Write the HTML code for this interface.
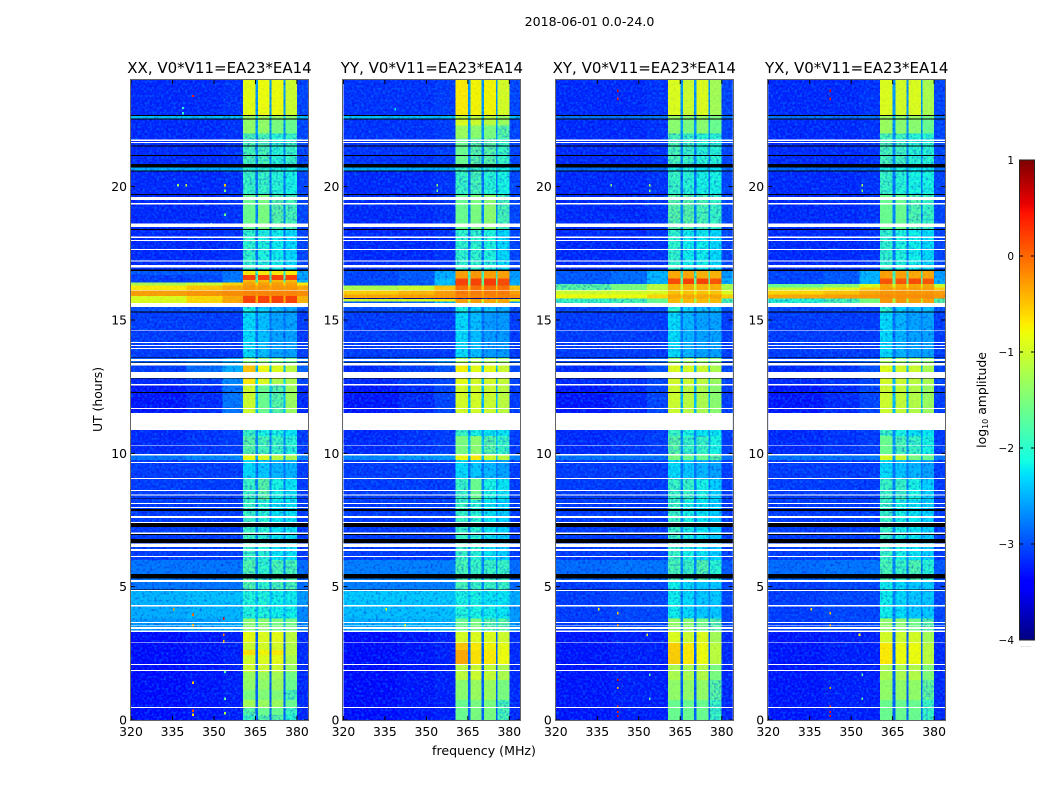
<!DOCTYPE html>
<html lang="en">
<head>
<meta charset="utf-8">
<title>2018-06-01 0.0-24.0</title>
<style>
html,body{margin:0;padding:0;background:#fff;}
svg{display:block;}
text{font-family:"DejaVu Sans","Liberation Sans",sans-serif;fill:#000;}
</style>
</head>
<body>
<svg id="figure" xmlns="http://www.w3.org/2000/svg" width="1050" height="800" viewBox="0 0 1050 800">
  <defs>
    <filter id="speckle" filterUnits="userSpaceOnUse" x="0" y="0" width="1050" height="800" color-interpolation-filters="sRGB">
      <feTurbulence type="fractalNoise" baseFrequency="0.42" numOctaves="1" seed="7" result="n"/>
      <feColorMatrix in="n" type="matrix" values="0 0 0 0 0  0 0 0 0 0.62  0 0 0 0 1  3.4 0 0 0 -1.55" result="light"/>
      <feColorMatrix in="n" type="matrix" values="0 0 0 0 0  0 0 0 0 0.02  0 0 0 0 0.8  0 3.4 0 0 -1.6" result="dark"/>
      <feMerge><feMergeNode in="dark"/><feMergeNode in="light"/></feMerge>
    </filter>
  </defs>
  <text x="589.5" y="26" text-anchor="middle" font-size="12.6">2018-06-01 0.0-24.0</text>
  <text x="484" y="755" text-anchor="middle" font-size="12.6">frequency (MHz)</text>
  <text transform="translate(102,399.5) rotate(-90)" text-anchor="middle" font-size="12.4">UT (hours)</text>
  <text transform="translate(986,400) rotate(-90)" text-anchor="middle" font-size="12.4">log<tspan font-size="8" dy="2">10</tspan><tspan dy="-2"> amplitude</tspan></text>
  <g id="panels"></g>
  <g id="colorbar"></g>
</svg>
<script>
// ---------- chart data ----------
const panelNames = ["XX, V0*V11=EA23*EA14", "YY, V0*V11=EA23*EA14", "XY, V0*V11=EA23*EA14", "YX, V0*V11=EA23*EA14"];
const xTicks = [320, 335, 350, 365, 380];
const yTicks = [0, 5, 10, 15, 20];
const cbTicks = [1, 0, -1, -2, -3, -4];
// frequency channel groups (MHz): left, mid, near, band1, gap, band2, gap, band3, gap, band4, right
const chanEdges = [320, 340, 353, 360.5, 365, 366, 370, 370.8, 375.2, 375.8, 380, 384];
// log10 amplitude per UT slice: [UT top, left, mid, near, band1, gap, band2, band3, band4, right]
const rowsXX = [
[24,-3.2,-3.2,-3.15,-0.85,-2.6,-0.8,-0.8,-1.0,-3.05],
[22.67,-2.4,-2.4,-2.4,-1.3,-2.3,-1.3,-1.3,-1.4,-2.4],
[22.54,-3.2,-3.2,-3.15,-1.35,-2.6,-1.35,-1.5,-1.6,-3.05],
[22.0,-3.2,-3.2,-3.15,-1.8,-2.7,-1.8,-2.0,-1.9,-3.05],
[20.72,-2.5,-2.5,-2.5,-2.0,-2.4,-2.0,-2.1,-2.1,-2.5],
[20.6,-3.2,-3.2,-3.15,-1.9,-2.8,-1.9,-2.0,-2.1,-3.05],
[19.7,-3.2,-3.2,-3.15,-1.6,-2.7,-1.5,-1.7,-1.8,-3.05],
[18.4,-3.2,-3.2,-3.15,-1.95,-2.8,-2.05,-2.15,-2.25,-3.05],
[16.84,-2.95,-2.95,-2.8,-0.7,-2.0,-0.7,-0.7,-0.7,-2.5],
[16.68,-3.1,-3.05,-2.8,0.2,-1.7,0.2,0.2,0.2,-2.6],
[16.5,-3.1,-3.05,-2.7,-0.45,-1.8,-0.45,-0.45,-0.45,-2.4],
[16.4,-1.2,-1.0,-0.6,-0.3,-0.6,-0.3,-0.3,-0.3,-0.7],
[16.3,-0.7,-0.5,-0.35,-0.25,-0.35,-0.25,-0.25,-0.25,-0.35],
[16.1,-0.3,-0.25,-0.2,-0.15,-0.2,-0.15,-0.15,-0.15,-0.2],
[15.9,-0.9,-0.6,-0.35,0.2,-0.4,0.2,0.2,0.2,-0.4],
[15.49,-3.0,-3.0,-3.0,-2.1,-2.8,-2.3,-2.4,-2.5,-3.0],
[15.3,-3.1,-3.1,-3.1,-2.25,-2.8,-2.4,-2.55,-2.55,-3.1],
[13.59,-2.9,-2.75,-2.5,-1.4,-2.3,-1.4,-1.5,-1.6,-2.8],
[13.29,-3.1,-2.85,-2.5,-0.5,-2.4,-0.8,-0.9,-1.1,-2.9],
[12.78,-3.2,-3.1,-2.7,-0.7,-2.2,-0.9,-1.2,-1.2,-3.05],
[12.55,-3.3,-3.2,-2.8,-1.0,-2.4,-1.6,-1.7,-1.3,-3.2],
[10.88,-3.2,-3.15,-3.1,-1.9,-2.7,-2.1,-2.1,-2.2,-3.1],
[10.65,-3.2,-3.15,-3.1,-1.7,-2.7,-1.8,-1.9,-2.0,-3.1],
[9.91,-2.8,-2.7,-2.7,-0.8,-2.5,-0.9,-1.1,-1.2,-2.7],
[9.75,-3.1,-3.1,-3.1,-2.25,-2.8,-2.35,-2.45,-2.45,-3.1],
[9.04,-3.1,-3.1,-3.1,-1.9,-2.7,-1.7,-2.1,-2.2,-3.1],
[8.25,-3.1,-3.1,-3.1,-1.9,-2.7,-2.0,-2.2,-2.2,-3.1],
[6.0,-2.8,-2.8,-2.8,-1.75,-2.7,-1.95,-1.8,-1.8,-2.85],
[4.85,-2.45,-2.4,-2.4,-2.05,-2.4,-2.05,-2.15,-2.15,-2.6],
[4.25,-2.5,-2.45,-2.45,-2.05,-2.4,-2.05,-2.15,-2.15,-2.7],
[3.8,-2.6,-2.55,-2.5,-1.4,-2.4,-1.4,-1.5,-1.55,-2.7],
[3.3,-3.35,-3.3,-3.25,-0.85,-2.9,-0.9,-0.85,-1.1,-3.2],
[2.9,-3.35,-3.3,-3.25,-1.0,-2.9,-0.95,-0.95,-1.15,-3.2],
[2.62,-3.35,-3.3,-3.25,-0.65,-2.9,-0.75,-0.7,-1.1,-3.2],
[2.44,-3.35,-3.3,-3.25,-0.95,-2.9,-0.9,-0.85,-1.2,-3.2],
[2.1,-3.35,-3.3,-3.25,-1.0,-2.9,-1.0,-1.0,-1.3,-3.2],
[1.8,-3.35,-3.3,-3.25,-1.3,-2.9,-1.3,-1.25,-1.55,-3.2],
[1.5,-3.35,-3.3,-3.25,-1.35,-2.9,-1.35,-1.3,-1.6,-3.2],
[1.12,-3.35,-3.3,-3.25,-1.5,-2.9,-1.45,-1.45,-1.8,-3.2],
[0.75,-3.35,-3.3,-3.25,-1.25,-2.9,-1.3,-1.3,-1.6,-3.2],
[0.45,-3.35,-3.3,-3.25,-1.7,-2.9,-1.6,-1.6,-1.9,-3.2],
[0.19,-3.35,-3.3,-3.25,-1.9,-2.9,-1.7,-1.7,-2.0,-3.2]
];
const rowsYY = [
[24,-3.15,-3.15,-3.1,-0.7,-2.6,-0.75,-0.75,-0.95,-3.05],
[22.67,-2.4,-2.4,-2.4,-1.1,-2.3,-1.1,-1.1,-1.3,-2.4],
[22.54,-3.15,-3.15,-3.1,-0.9,-2.6,-1.0,-1.1,-1.3,-3.05],
[22.3,-3.15,-3.15,-3.1,-1.3,-2.6,-1.4,-1.5,-1.7,-3.05],
[21.8,-3.15,-3.15,-3.1,-1.6,-2.7,-1.7,-1.7,-1.9,-3.05],
[20.72,-2.5,-2.5,-2.5,-1.9,-2.4,-1.9,-2.0,-2.1,-2.5],
[20.6,-3.2,-3.2,-3.15,-1.9,-2.8,-1.8,-2.0,-2.1,-3.05],
[19.7,-3.2,-3.2,-3.15,-1.6,-2.7,-1.5,-1.4,-1.8,-3.05],
[18.4,-3.2,-3.2,-3.15,-1.95,-2.8,-1.95,-2.05,-2.25,-3.05],
[16.84,-3.05,-2.95,-2.5,-0.3,-1.8,-0.25,-0.3,-0.3,-2.6],
[16.55,-3.05,-2.95,-2.4,0.2,-1.6,0.2,0.25,0.15,-2.5],
[16.3,-1.2,-1.0,-0.5,-0.05,-0.5,-0.05,-0.05,-0.05,-0.5],
[16.1,-0.55,-0.45,-0.3,-0.1,-0.3,-0.1,-0.1,-0.1,-0.3],
[15.95,-0.35,-0.3,-0.25,-0.15,-0.25,-0.15,-0.15,-0.15,-0.2],
[15.82,-4,-4,-4,-4,-4,-4,-4,-4,-4],
[15.78,-1.0,-0.9,-0.7,-0.3,-0.7,-0.3,-0.35,-0.35,-0.8],
[15.7,-2.95,-2.85,-2.4,-0.3,-1.4,-0.3,-0.35,-0.35,-2.6],
[15.49,-3.0,-3.0,-3.0,-2.1,-2.8,-2.3,-2.4,-2.5,-3.0],
[15.3,-3.1,-3.1,-3.1,-2.25,-2.8,-2.4,-2.6,-2.6,-3.1],
[13.59,-2.95,-2.8,-2.65,-1.2,-2.3,-1.2,-1.2,-1.3,-2.9],
[13.29,-3.2,-3.1,-3.0,-0.75,-2.4,-0.85,-0.85,-1.0,-3.05],
[12.78,-3.2,-3.1,-3.05,-0.85,-2.4,-0.95,-0.95,-1.05,-3.05],
[12.55,-3.3,-3.2,-3.05,-0.95,-2.4,-0.95,-1.0,-1.1,-3.1],
[10.88,-3.2,-3.15,-3.1,-1.9,-2.6,-2.1,-2.2,-2.2,-3.1],
[10.65,-3.2,-3.15,-3.1,-1.5,-2.4,-1.4,-1.7,-1.9,-3.1],
[9.91,-2.7,-2.6,-2.6,-0.8,-2.4,-0.7,-1.0,-1.1,-2.7],
[9.75,-3.1,-3.1,-3.1,-2.25,-2.8,-2.35,-2.45,-2.55,-3.1],
[9.04,-3.1,-3.1,-3.1,-1.9,-2.7,-1.6,-2.1,-2.2,-3.1],
[8.25,-3.1,-3.1,-3.1,-1.9,-2.7,-2.0,-2.2,-2.3,-3.1],
[6.0,-2.75,-2.75,-2.75,-1.8,-2.7,-1.9,-1.9,-1.9,-2.85],
[4.85,-2.35,-2.35,-2.35,-2.1,-2.35,-2.1,-2.2,-2.2,-2.5],
[4.25,-2.4,-2.4,-2.4,-2.05,-2.35,-2.1,-2.15,-2.2,-2.6],
[3.8,-2.5,-2.45,-2.45,-1.6,-2.3,-1.5,-1.7,-1.7,-2.6],
[3.3,-3.35,-3.3,-3.25,-0.95,-2.9,-0.9,-0.9,-1.0,-3.2],
[2.9,-3.35,-3.3,-3.25,-0.5,-2.9,-0.7,-0.75,-0.85,-3.2],
[2.62,-3.35,-3.3,-3.25,-0.35,-2.9,-0.65,-0.7,-0.8,-3.2],
[2.1,-3.35,-3.3,-3.25,-1.1,-2.9,-1.0,-1.05,-1.2,-3.2],
[1.5,-3.35,-3.3,-3.25,-1.4,-2.9,-1.3,-1.3,-1.5,-3.2],
[0.75,-3.35,-3.3,-3.25,-1.6,-2.9,-1.5,-1.5,-1.8,-3.2]
];
const rowsXY = [
[24,-3.2,-3.2,-3.15,-0.9,-2.6,-1.0,-0.9,-1.25,-3.05],
[22.67,-2.8,-2.8,-2.8,-1.3,-2.5,-1.4,-1.3,-1.5,-2.8],
[22.54,-3.2,-3.2,-3.15,-1.4,-2.6,-1.5,-1.4,-1.6,-3.05],
[22.0,-3.2,-3.2,-3.15,-1.8,-2.7,-1.9,-2.0,-2.0,-3.05],
[20.72,-2.85,-2.85,-2.85,-2.1,-2.6,-2.1,-2.2,-2.2,-2.85],
[20.6,-3.2,-3.2,-3.15,-1.9,-2.8,-2.0,-2.1,-2.1,-3.05],
[19.7,-3.2,-3.2,-3.15,-1.7,-2.7,-1.7,-1.8,-1.9,-3.05],
[18.4,-3.2,-3.2,-3.15,-1.95,-2.8,-2.15,-2.15,-2.25,-3.05],
[16.84,-2.95,-2.85,-2.45,-0.35,-1.8,-0.35,-0.4,-0.4,-2.6],
[16.55,-2.95,-2.85,-2.45,0.15,-1.6,0.2,0.2,0.1,-2.5],
[16.35,-1.7,-1.5,-1.1,-0.4,-1.0,-0.4,-0.4,-0.4,-1.2],
[16.13,-1.0,-0.95,-0.9,-0.5,-0.8,-0.5,-0.5,-0.5,-0.9],
[15.95,-0.8,-0.8,-0.6,-0.35,-0.5,-0.35,-0.35,-0.35,-0.55],
[15.8,-1.9,-1.8,-1.6,-0.45,-1.3,-0.45,-0.45,-0.45,-1.8],
[15.49,-3.05,-3.05,-3.05,-2.0,-2.8,-2.3,-2.4,-2.4,-3.0],
[15.3,-3.1,-3.1,-3.1,-2.25,-2.8,-2.45,-2.55,-2.55,-3.1],
[13.59,-3.05,-2.95,-2.85,-1.3,-2.4,-1.3,-1.3,-1.4,-3.0],
[13.29,-3.2,-3.15,-3.0,-0.9,-2.4,-0.95,-1.0,-1.2,-3.05],
[12.78,-3.2,-3.15,-3.05,-0.95,-2.4,-1.0,-1.1,-1.3,-3.05],
[12.55,-3.3,-3.2,-3.05,-1.0,-2.4,-1.1,-1.2,-1.4,-3.1],
[10.88,-3.2,-3.15,-3.1,-1.9,-2.7,-2.1,-2.2,-2.2,-3.1],
[10.65,-3.2,-3.15,-3.1,-1.7,-2.6,-1.9,-1.9,-2.1,-3.1],
[9.91,-2.8,-2.8,-2.8,-1.5,-2.5,-1.6,-1.6,-1.7,-2.8],
[9.75,-3.1,-3.1,-3.1,-2.25,-2.8,-2.35,-2.45,-2.55,-3.1],
[9.04,-3.1,-3.1,-3.1,-1.9,-2.7,-1.9,-2.1,-2.3,-3.1],
[8.25,-3.1,-3.1,-3.1,-1.9,-2.7,-2.1,-2.2,-2.3,-3.1],
[6.0,-2.85,-2.8,-2.8,-1.8,-2.7,-1.9,-1.75,-2.0,-2.95],
[5.18,-3.1,-3.05,-3.05,-2.15,-2.7,-2.25,-2.35,-2.35,-3.05],
[3.8,-3.1,-3.05,-3.05,-1.35,-2.7,-1.4,-1.55,-1.7,-3.05],
[3.3,-3.3,-3.25,-3.25,-0.9,-2.9,-1.0,-0.9,-1.25,-3.2],
[2.9,-3.3,-3.25,-3.25,-0.55,-2.9,-0.7,-0.8,-1.1,-3.2],
[2.1,-3.3,-3.25,-3.25,-1.2,-2.9,-1.2,-1.15,-1.5,-3.2],
[1.5,-3.3,-3.25,-3.25,-1.35,-2.9,-1.35,-1.35,-1.7,-3.2],
[0.75,-3.3,-3.25,-3.25,-1.6,-2.9,-1.6,-1.6,-1.9,-3.2]
];
const rowsYX = [
[24,-3.2,-3.2,-3.15,-0.9,-2.6,-0.95,-0.9,-1.2,-3.05],
[22.67,-2.8,-2.8,-2.8,-1.3,-2.5,-1.4,-1.3,-1.5,-2.8],
[22.54,-3.2,-3.2,-3.15,-1.3,-2.6,-1.4,-1.4,-1.6,-3.05],
[22.0,-3.2,-3.2,-3.15,-1.8,-2.7,-1.85,-2.0,-2.0,-3.05],
[20.72,-2.85,-2.85,-2.85,-2.1,-2.6,-2.1,-2.2,-2.2,-2.85],
[20.6,-3.2,-3.2,-3.15,-1.9,-2.8,-2.0,-2.1,-2.1,-3.05],
[19.7,-3.2,-3.2,-3.15,-1.6,-2.7,-1.6,-1.75,-1.9,-3.05],
[18.4,-3.2,-3.2,-3.15,-1.95,-2.8,-2.05,-2.15,-2.25,-3.05],
[16.84,-3.05,-2.95,-2.45,-0.3,-1.8,-0.3,-0.35,-0.35,-2.6],
[16.55,-3.05,-2.95,-2.45,0.1,-1.6,0.1,0.15,0.1,-2.5],
[16.35,-1.6,-1.4,-0.9,-0.35,-0.9,-0.35,-0.35,-0.35,-1.0],
[16.22,-1.05,-0.85,-0.55,-0.3,-0.5,-0.3,-0.3,-0.3,-0.55],
[16.1,-0.6,-0.5,-0.35,-0.25,-0.3,-0.25,-0.25,-0.25,-0.3],
[15.95,-0.35,-0.3,-0.25,-0.2,-0.25,-0.2,-0.2,-0.2,-0.25],
[15.8,-2.0,-1.8,-1.5,-0.25,-1.2,-0.25,-0.3,-0.3,-1.7],
[15.49,-3.05,-3.05,-3.05,-2.0,-2.8,-2.3,-2.4,-2.4,-3.0],
[15.3,-3.1,-3.1,-3.1,-2.25,-2.8,-2.45,-2.55,-2.55,-3.1],
[13.59,-3.05,-2.95,-2.85,-1.3,-2.4,-1.3,-1.3,-1.4,-3.0],
[13.29,-3.2,-3.15,-3.0,-0.9,-2.4,-0.95,-1.0,-1.2,-3.05],
[12.78,-3.2,-3.15,-3.05,-0.95,-2.4,-1.0,-1.1,-1.2,-3.05],
[12.55,-3.3,-3.2,-3.05,-1.0,-2.4,-1.05,-1.15,-1.3,-3.1],
[10.88,-3.2,-3.15,-3.1,-1.9,-2.7,-2.1,-2.2,-2.2,-3.1],
[10.65,-3.2,-3.15,-3.1,-1.6,-2.6,-1.8,-1.9,-2.1,-3.1],
[9.91,-2.8,-2.8,-2.8,-0.9,-2.5,-1.0,-1.5,-1.6,-2.8],
[9.75,-3.1,-3.1,-3.1,-2.25,-2.8,-2.35,-2.45,-2.55,-3.1],
[9.04,-3.1,-3.1,-3.1,-1.9,-2.7,-1.9,-2.1,-2.3,-3.1],
[8.25,-3.1,-3.1,-3.1,-1.9,-2.7,-2.1,-2.2,-2.3,-3.1],
[6.0,-2.85,-2.8,-2.8,-1.8,-2.7,-1.9,-1.75,-2.0,-2.95],
[5.18,-3.1,-3.05,-3.05,-2.15,-2.7,-2.25,-2.35,-2.35,-3.05],
[3.8,-3.1,-3.05,-3.05,-1.35,-2.7,-1.4,-1.55,-1.7,-3.05],
[3.3,-3.3,-3.25,-3.25,-0.95,-2.9,-1.0,-0.95,-1.25,-3.2],
[2.9,-3.3,-3.25,-3.25,-0.7,-2.9,-0.8,-0.8,-1.1,-3.2],
[2.1,-3.3,-3.25,-3.25,-1.2,-2.9,-1.2,-1.15,-1.45,-3.2],
[1.5,-3.3,-3.25,-3.25,-1.35,-2.9,-1.35,-1.35,-1.65,-3.2],
[0.75,-3.3,-3.25,-3.25,-1.6,-2.9,-1.6,-1.6,-1.9,-3.2]
];
// flagged (blank) UT intervals common to all correlations: [top, bottom]
const whiteFlags = [
[21.77,21.71],[21.68,21.64],[19.62,19.5],[19.38,19.34],[18.61,18.49],[18.13,18.08],[18.0,17.96],[17.66,17.63],
[17.24,17.2],[17.06,16.97],[16.13,16.1],[15.63,15.49],[14.61,14.59],[14.18,14.14],[14.06,14.03],[13.95,13.91],
[13.54,13.47],[13.38,13.29],[13.05,12.83],[12.6,12.55],[11.7,11.66],[11.51,10.88],[10.31,10.29],[9.98,9.91],
[9.68,9.64],[9.08,9.04],[8.63,8.58],[8.46,8.41],[8.14,8.1],[7.99,7.95],[7.65,7.58],[7.43,7.39],[7.04,6.98],
[6.61,6.49],[6.41,6.34],[6.15,6.11],[5.25,5.18],[4.88,4.84],[4.31,4.25],[3.68,3.64],[3.57,3.54],[3.48,3.42],
[3.36,3.3],[2.91,2.89],[2.1,2.06],[1.88,1.84],[0.49,0.45]
];
// flagged zero-amplitude UT intervals: [top, bottom]
const blackFlags = [
[22.69,22.65],[22.56,22.52],[21.54,21.5],[21.19,21.15],[20.85,20.72],[20.61,20.57],[19.73,19.69],[18.41,18.38],
[16.9,16.84],[15.32,15.28],[13.59,13.57],[13.43,13.4],[12.81,12.78],[12.3,12.27],[8.33,8.3],[7.92,7.83],
[7.39,7.23],[6.98,6.94],[6.79,6.63],[5.48,5.3],[4.9,4.88]
];
// isolated interference spots: [frequency, UT, log10 amplitude]
const rfiXX = [[338.8,22.95,-2.0],[338.8,22.75,-2.0],[342.4,23.4,0.4],[335.5,4.16,-0.3],[342.4,3.55,-0.3],[342.4,3.95,0.0],[342.4,0.35,0.2],[342.4,0.2,-0.6],[342.4,1.4,-0.5],[353.6,3.8,0.5],[353.6,3.2,-0.2],[353.6,2.95,-0.4],[354,1.8,-1.8],[354,0.8,-1.8],[354,0.25,-1.2],[354,20.06,-0.5],[354,19.85,-1.5],[340,20.05,-1.0],[337,20.05,-1.3],[349,18.6,-1.8],[354,18.95,-1.6]];
const rfiYY = [[338.8,22.9,-2.2],[335.5,4.16,-0.8],[342.4,3.55,-0.8],[354,20.05,-1.4],[354,19.85,-1.6]];
const rfiXY = [[342.4,23.6,0.6],[342.4,23.3,0.4],[342.4,3.55,-0.2],[342.4,3.45,0.2],[342.4,0.5,0.2],[342.4,0.3,0.4],[342.4,0.15,0.5],[342.4,1.2,-0.4],[342.4,1.5,0.6],[335.5,4.15,-0.7],[342.4,4.0,-0.5],[353,3.2,-0.8],[354,1.7,-1.8],[354,0.8,-1.8],[354,20.05,-1.2],[354,19.85,-1.5],[340,20.05,-1.5]];
const rfiYX = [[342.4,23.6,0.6],[342.4,23.3,0.4],[342.4,3.55,-0.2],[342.4,3.45,0.2],[342.4,0.5,0.2],[342.4,0.3,0.4],[342.4,0.15,0.5],[342.4,1.2,-0.4],[335.5,4.15,-0.7],[342.4,4.0,-0.5],[353,3.2,-0.8],[354,1.7,-1.8],[354,0.8,-1.8],[354,20.05,-1.2],[354,19.85,-1.5]];
const panelRows = [rowsXX, rowsYY, rowsXY, rowsYX];
const panelRfi = [rfiXX, rfiYY, rfiXY, rfiYX];

// ---------- scales and helpers ----------
const NS = "http://www.w3.org/2000/svg";
const PLOT_W = 177, PLOT_TOP = 80, PLOT_H = 640, PANEL_STEP = 212.4, PANEL_X0 = 131;
const columnSlot = [1, 2, 3, 4, 5, 6, 5, 7, 5, 8, 9];
function panelLeft(i) { return PANEL_X0 + i * PANEL_STEP; }
function xScale(i, f) { return panelLeft(i) + (f - 320) / 64 * PLOT_W; }
function yScale(t) { return PLOT_TOP + PLOT_H - t / 24 * PLOT_H; }
function cScale(v) { return 640 - (v + 4) / 5 * 480; }
function lerpStops(stops, n) {
  for (let k = 1; k < stops.length; k++) {
    if (n <= stops[k][0]) {
      const a = stops[k - 1], b = stops[k];
      return a[1] + (b[1] - a[1]) * (n - a[0]) / (b[0] - a[0]);
    }
  }
  return stops[stops.length - 1][1];
}
function jet(v) {
  const n = Math.max(0, Math.min(1, (v + 4) / 5));
  const r = lerpStops([[0,0],[0.35,0],[0.66,1],[0.89,1],[1,0.5]], n);
  const g = lerpStops([[0,0],[0.125,0],[0.375,1],[0.64,1],[0.91,0],[1,0]], n);
  const b = lerpStops([[0,0.5],[0.11,1],[0.34,1],[0.65,0],[1,0]], n);
  return "rgb(" + Math.round(r * 255) + "," + Math.round(g * 255) + "," + Math.round(b * 255) + ")";
}
function mk(tag, attrs, parent) {
  const el = document.createElementNS(NS, tag);
  for (const k in attrs) el.setAttribute(k, attrs[k]);
  parent.appendChild(el);
  return el;
}

// ---------- panels ----------
const panelsGroup = document.getElementById("panels");
panelNames.forEach(function (title, i) {
  const L = panelLeft(i), R = L + PLOT_W, B = PLOT_TOP + PLOT_H;
  const g = mk("g", {}, panelsGroup);
  
  

  const t = mk("text", { x: L + PLOT_W / 2, y: 73, "text-anchor": "middle", "font-size": 15 }, g);
  t.textContent = title;
  
  

  const clipId = "clip" + i;
  const cp = mk("clipPath", { id: clipId }, g);
  mk("rect", { x: L, y: PLOT_TOP, width: PLOT_W, height: PLOT_H }, cp);

  const heat = mk("g", { "clip-path": "url(#" + clipId + ")", "shape-rendering": "crispEdges" }, g);
  
  

  const rows = panelRows[i];
  function drawCells(onlyBright) {
    rows.forEach(function (row, r) {
      const tTop = row[0];
      const tBot = r + 1 < rows.length ? rows[r + 1][0] : 0;
      for (let c = 0; c < columnSlot.length; c++) {
        const val = row[columnSlot[c]];
        if (onlyBright && val < -1.6) continue;
        const x0 = xScale(i, chanEdges[c]), x1 = xScale(i, chanEdges[c + 1]);
        const cell = mk("rect", {
          x: x0, y: yScale(tTop), width: x1 - x0, height: yScale(tBot) - yScale(tTop),
          fill: jet(val)
        }, heat);
        if (onlyBright) cell.setAttribute("opacity", 0.82);
        
        
      }
    });
  }
  drawCells(false);

  const noise = mk("rect", { x: L, y: PLOT_TOP, width: PLOT_W, height: PLOT_H, filter: "url(#speckle)", opacity: 0.42 }, heat);
  
  

  drawCells(true);

  panelRfi[i].forEach(function (p) {
    const dot = mk("rect", { x: xScale(i, p[0]) - 0.8, y: yScale(p[1]) - 1.2, width: 1.6, height: 2.4, fill: jet(p[2]) }, heat);
    
    
  });

  blackFlags.forEach(function (f) {
    const bar = mk("rect", { x: L, y: yScale(f[0]), width: PLOT_W, height: yScale(f[1]) - yScale(f[0]), fill: "#000" }, heat);
    
    
  });
  whiteFlags.forEach(function (f) {
    const bar = mk("rect", { x: L, y: yScale(f[0]), width: PLOT_W, height: yScale(f[1]) - yScale(f[0]), fill: "#fff" }, heat);
    
    
  });

  xTicks.forEach(function (v) {
    const x = xScale(i, v);
    const tick1 = mk("path", { d: "M" + x + " " + B + "v-4M" + x + " " + PLOT_TOP + "v4", stroke: "#000", "stroke-width": 1, fill: "none" }, g);
    
    
    const lab = mk("text", { x: x, y: B + 16, "text-anchor": "middle", "font-size": 12.4 }, g);
    lab.textContent = String(v);
    
    
  });
  yTicks.forEach(function (v) {
    const y = yScale(v);
    const tick2 = mk("path", { d: "M" + L + " " + y + "h4M" + R + " " + y + "h-4", stroke: "#000", "stroke-width": 1, fill: "none" }, g);
    
    
    const lab = mk("text", { x: L - 4, y: y + 4.5, "text-anchor": "end", "font-size": 12.4 }, g);
    lab.textContent = String(v);
    
    
  });

  const spine = mk("rect", { x: Math.round(L) - 0.5, y: PLOT_TOP - 0.5, width: PLOT_W + 1, height: PLOT_H + 1, fill: "none", stroke: "#666", "stroke-width": 1 }, g);
  
  
});

// ---------- colorbar ----------
const cb = document.getElementById("colorbar");
const CB_X = 1019, CB_W = 16;
for (let py = 0; py < 480; py += 2) {
  const lvl = -4 + (py + 1) / 480 * 5;
  const seg = mk("rect", { x: CB_X, y: cScale(lvl) - 1, width: CB_W, height: 2.3, fill: jet(lvl), "shape-rendering": "crispEdges" }, cb);
  
  
}
cbTicks.forEach(function (v) {
  const y = cScale(v);
  const tick3 = mk("path", { d: "M" + CB_X + " " + y + "h4M" + (CB_X + CB_W) + " " + y + "h-4", stroke: "#000", "stroke-width": 1, fill: "none" }, cb);
  
  
  const lab = mk("text", { x: CB_X - 5, y: y + 4, "text-anchor": "end", "font-size": 10.5 }, cb);
  lab.textContent = v < 0 ? "\u2212" + Math.abs(v) : String(v);
  
  
});
const cbFrame = mk("rect", { x: CB_X + 0.5, y: 160, width: CB_W - 1, height: 480, fill: "none", stroke: "#222", "stroke-width": 1 }, cb);


const cbDots = mk("text", { x: CB_X + CB_W / 2 - 1, y: 647, "text-anchor": "middle", "font-size": 6, style: "fill:#999" }, cb);
cbDots.textContent = "......";


</script>
</body>
</html>
